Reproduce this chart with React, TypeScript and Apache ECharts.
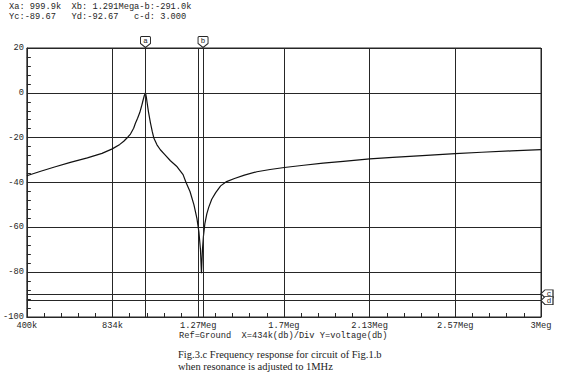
import React, { useEffect, useRef } from "react";
import * as echarts from "echarts";

// Frequency (kHz) and response (dB)
const freqKHz = [
  400, 470, 540, 620, 706, 780, 832, 870, 890, 910, 924, 940, 949, 960, 971, 980, 988, 994, 1000,
  1004, 1008, 1015, 1025, 1034, 1042, 1058, 1075, 1100, 1126, 1160, 1190, 1205, 1225, 1245, 1260,
  1270, 1278, 1283, 1288, 1293, 1300, 1310, 1320, 1335, 1355, 1380, 1410, 1450, 1500, 1563, 1630,
  1702, 1800, 1898, 2000, 2134, 2250, 2400, 2566, 2700, 2850, 3000,
];
const voltageDb = [
  -37.0, -35.0, -33.1, -31.0, -29.0, -27.0, -25.0, -23.0, -21.6, -19.8, -18.4, -15.8, -13.6, -11.3,
  -8.8, -6.0, -3.2, -1.2, 0.0, -1.8, -4.3, -8.5, -13.4, -17.2, -20.1, -23.2, -25.4, -27.8, -30.3,
  -33.0, -36.5, -40.0, -44.0, -50.0, -56.0, -62.0, -70.0, -80.5, -70.0, -64.0, -58.5, -54.0, -51.0,
  -47.5, -44.5, -41.5, -39.6, -38.2, -36.7, -35.2, -34.2, -33.3, -32.3, -31.4, -30.6, -29.5, -28.8,
  -28.0, -27.1, -26.5, -25.9, -25.3,
];
const xTickLabels = ["400k", "834k", "1.27Meg", "1.7Meg", "2.13Meg", "2.57Meg", "3Meg"];
const cursorX = [
  { name: "a", value: 999.9 },
  { name: "b", value: 1291.0 },
];
const cursorY = [
  { name: "c", value: -89.67 },
  { name: "d", value: -92.67 },
];
const headerLines = [
  "Xa: 999.9k  Xb: 1.291Mega-b:-291.0k",
  "Yc:-89.67   Yd:-92.67   c-d: 3.000",
];
const footerText = "Ref=Ground  X=434k(db)/Div Y=voltage(db)";
const captionLines = [
  "Fig.3.c Frequency response for circuit of Fig.1.b",
  "when resonance is adjusted to 1MHz",
];

const X_MIN = 400;
const X_MAX = 3000;
const X_INT = 433.33333333334;
const MONO = "'Liberation Mono', 'DejaVu Sans Mono', monospace";
const INK = "#262626";

export default function App() {
  const ref = useRef<HTMLDivElement>(null);
  useEffect(() => {
    if (!ref.current) return;
    const chart = echarts.init(ref.current, undefined, { renderer: "svg" });
    const data = freqKHz.map((f, i) => [f, voltageDb[i]]);
    const shield = "path://M1,0 L9,0 Q10,0 10,1 L10,7 L5,11 L0,7 L0,1 Q0,0 1,0 Z";
    const leftTag = "path://M0,5 L4,0 L12,0 L12,10 L4,10 Z";
    chart.setOption({
      animation: false,
      backgroundColor: "#ffffff",
      grid: {
        left: 26,
        right: 25,
        top: 48,
        bottom: 62,
        show: true,
        borderColor: INK,
        borderWidth: 1,
        containLabel: false,
      },
      xAxis: {
        type: "value",
        min: X_MIN,
        max: X_MAX,
        interval: X_INT,
        axisLine: { show: true, onZero: false, lineStyle: { color: INK, width: 1 } },
        axisTick: { show: false, inside: true },
        minorTick: { show: true, splitNumber: 5, length: 4, lineStyle: { color: INK, width: 1 } },
        splitLine: { show: true, lineStyle: { color: INK, width: 1 } },
        axisLabel: {
          show: true,
          margin: 4,
          fontFamily: MONO,
          fontSize: 8.7,
          color: INK,
          showMinLabel: true,
          showMaxLabel: true,
          formatter: (v: number) => {
            const idx = Math.round((v - X_MIN) / X_INT);
            return xTickLabels[idx] ?? "";
          },
        },
      },
      yAxis: {
        type: "value",
        min: -100,
        max: 20,
        interval: 20,
        axisLine: { show: true, onZero: false, lineStyle: { color: INK, width: 1 } },
        axisTick: { show: false, inside: true },
        minorTick: { show: true, splitNumber: 5, length: 4, lineStyle: { color: INK, width: 1 } },
        splitLine: { show: true, lineStyle: { color: INK, width: 1 } },
        axisLabel: {
          show: true,
          margin: 3,
          fontFamily: MONO,
          fontSize: 8.7,
          color: INK,
        },
      },
      series: [
        {
          type: "line",
          data,
          showSymbol: false,
          symbol: "none",
          lineStyle: { color: "#111111", width: 1.2 },
          clip: true,
          z: 3,
          markLine: {
            silent: true,
            symbol: "none",
            label: { show: false },
            lineStyle: { color: INK, width: 1, type: "solid" },
            data: [
              ...cursorX.map((c) => ({ xAxis: c.value })),
              ...cursorY.map((c) => ({ yAxis: c.value })),
            ],
          },
          markPoint: {
            silent: true,
            data: [
              ...cursorX.map((c) => ({
                coord: [c.value, 20],
                symbol: shield,
                symbolSize: [10, 11],
                symbolOffset: [0, -6],
                itemStyle: { color: "#ffffff", borderColor: INK, borderWidth: 1 },
                label: {
                  show: true,
                  position: "inside",
                  formatter: c.name,
                  fontFamily: MONO,
                  fontSize: 7.5,
                  color: INK,
                  offset: [0, -1],
                },
              })),
              ...cursorY.map((c) => ({
                coord: [X_MAX, c.value],
                symbol: leftTag,
                symbolSize: [12, 8],
                symbolOffset: [6, 0],
                itemStyle: { color: "#ffffff", borderColor: INK, borderWidth: 1 },
                label: {
                  show: true,
                  position: "inside",
                  formatter: c.name,
                  fontFamily: MONO,
                  fontSize: 7.5,
                  color: INK,
                  offset: [2, 0],
                },
              })),
            ],
          },
        },
      ],
      graphic: [
        ...headerLines.map((t, i) => ({
          type: "text",
          left: 9,
          top: 2 + i * 10,
          style: { text: t, fontFamily: MONO, fontSize: 8.7, fill: INK },
        })),
        {
          type: "text",
          left: 179,
          top: 331,
          style: { text: footerText, fontFamily: MONO, fontSize: 8.7, fill: INK },
        },
        ...captionLines.map((t, i) => ({
          type: "text",
          left: 178,
          top: 349 + i * 12,
          style: {
            text: t,
            fontFamily: "'Liberation Serif', 'DejaVu Serif', serif",
            fontSize: 10.5,
            fill: "#222222",
          },
        })),
      ],
    });
    return () => chart.dispose();
  }, []);
  return (
    <div
      ref={ref}
      style={{ position: "absolute", left: 0, top: 0, width: 566, height: 379, background: "#fff" }}
    />
  );
}
